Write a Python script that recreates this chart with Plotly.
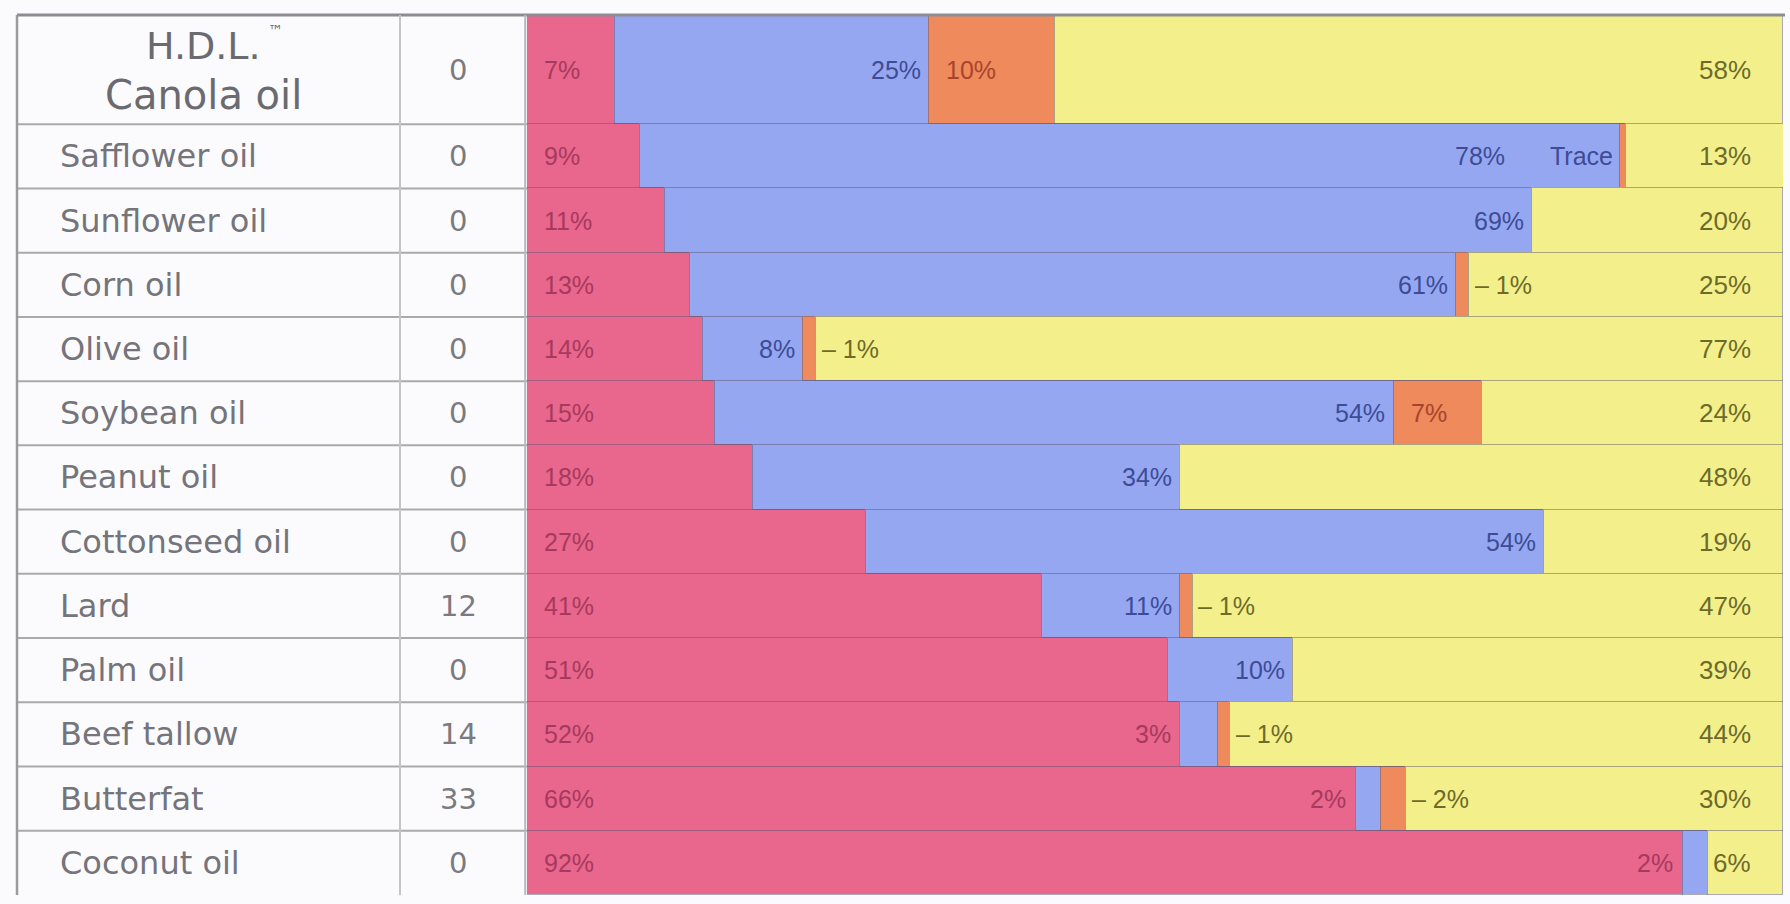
import plotly.graph_objects as go

# ---------------- data ----------------
fats = ["Canola oil", "Safflower oil", "Sunflower oil", "Corn oil", "Olive oil",
        "Soybean oil", "Peanut oil", "Cottonseed oil", "Lard", "Palm oil",
        "Beef tallow", "Butterfat", "Coconut oil"]
first_prefix = "H.D.L."
cholesterol = [0, 0, 0, 0, 0, 0, 0, 0, 12, 0, 14, 33, 0]
saturated = [7, 9, 11, 13, 14, 15, 18, 27, 41, 51, 52, 66, 92]
linoleic = [25, 78, 69, 61, 8, 54, 34, 54, 11, 10, 3, 2, 2]
alpha_linolenic = [10, 0.5, 0, 1, 1, 7, 0, 0, 1, 0, 1, 2, 0]
alpha_labels = ["10%", "Trace", "", "1%", "1%", "7%", "", "", "1%", "", "1%", "2%", ""]
monounsaturated = [58, 13, 20, 25, 77, 24, 48, 19, 47, 39, 44, 30, 6]

# ---------------- styling / layout ----------------
W, H = 1790, 904
C_SAT, C_LIN, C_ALA, C_MONO = "#E9668C", "#96A7F2", "#EF8A5C", "#F3F08B"
T_SAT, T_LIN, T_ALA, T_MONO = "#A63A5E", "#3D4C95", "#A8442E", "#6E6A2A"
GRID = "#A9A9AE"

row_h = [1.7] + [1.0] * (len(fats) - 1)
centers, acc = [], 0.0
for h in row_h:
    centers.append(acc + h / 2)
    acc += h
total = acc

top_px, bot_px = 15, 895
x_left_px, x_right_px = 527, 1783
ydom = [1 - bot_px / H, 1 - top_px / H]
xdom = [x_left_px / W, x_right_px / W]

fig = go.Figure()
edge = dict(color="rgba(95,85,115,0.5)", width=1.2)
for vals, col, name in [(saturated, C_SAT, "Saturated fat"),
                        (linoleic, C_LIN, "Linoleic acid"),
                        (alpha_linolenic, C_ALA, "Alpha-linolenic acid"),
                        (monounsaturated, C_MONO, "Monounsaturated fat")]:
    fig.add_trace(go.Bar(y=centers, x=vals, width=row_h, orientation="h",
                         marker=dict(color=col, line=edge), name=name,
                         showlegend=False, hoverinfo="x+name"))

ann = []
lab_font = "Liberation Sans, Arial, sans-serif"
tab_font = "DejaVu Sans, sans-serif"
for i, c in enumerate(centers):
    s, l, a, m = saturated[i], linoleic[i], alpha_linolenic[i], monounsaturated[i]
    at = alpha_labels[i]
    # saturated label at left of bar
    ann.append(dict(x=1.2, y=c, xref="x", yref="y", text=f"{s}%", showarrow=False,
                    xanchor="left", font=dict(size=25, color=T_SAT, family=lab_font)))
    # linoleic label right-aligned at end of blue segment
    lcol = T_LIN if l >= 5 else T_SAT
    if at == "Trace":
        lx = s + l - 9.0
    elif l < 5:
        lx = s - 0.6
    else:
        lx = s + l - 0.5
    ann.append(dict(x=lx, y=c, xref="x", yref="y", text=f"{l}%", showarrow=False,
                    xanchor="right", font=dict(size=25, color=lcol, family=lab_font)))
    # alpha-linolenic label
    if at == "Trace":
        ann.append(dict(x=s + l - 0.4, y=c, xref="x", yref="y", text="Trace", showarrow=False,
                        xanchor="right", font=dict(size=25, color=T_LIN, family=lab_font)))
    elif at and a >= 5:
        ann.append(dict(x=s + l + 1.2, y=c, xref="x", yref="y", text=at, showarrow=False,
                        xanchor="left", font=dict(size=25, color=T_ALA, family=lab_font)))
    elif at:
        ann.append(dict(x=s + l + a + 0.3, y=c, xref="x", yref="y", text="– " + at,
                        showarrow=False, xanchor="left",
                        font=dict(size=25, color=T_MONO, family=lab_font)))
    # monounsaturated label near right end
    ann.append(dict(x=97.6, y=c, xref="x", yref="y", text=f"{m}%", showarrow=False,
                    xanchor="right", font=dict(size=26, color=T_MONO, family=lab_font)))
    # table: fat name
    if i == 0:
        ann.append(dict(x=203 / W, y=c - 0.36, xref="paper", yref="y", text=first_prefix,
                        showarrow=False, xanchor="center",
                        font=dict(size=38, color="#6A6A70", family=tab_font)))
        ann.append(dict(x=266 / W, y=c - 0.6, xref="paper", yref="y", text="™",
                        showarrow=False, xanchor="left",
                        font=dict(size=15, color="#6A6A70", family=tab_font)))
        ann.append(dict(x=203 / W, y=c + 0.4, xref="paper", yref="y", text=fats[i],
                        showarrow=False, xanchor="center",
                        font=dict(size=40, color="#6A6A70", family=tab_font)))
    else:
        ann.append(dict(x=58 / W, y=c, xref="paper", yref="y", text=fats[i], showarrow=False,
                        xanchor="left", font=dict(size=32, color="#74747A", family=tab_font)))
    # table: cholesterol
    ann.append(dict(x=458 / W, y=c, xref="paper", yref="y", text=str(cholesterol[i]),
                    showarrow=False, xanchor="center",
                    font=dict(size=29, color="#7A7A80", family=tab_font)))

shapes = []
# row separators in the table area
acc = 0.0
for h in row_h[:-1]:
    acc += h
    shapes.append(dict(type="line", xref="paper", yref="y", x0=17 / W, x1=x_left_px / W,
                       y0=acc, y1=acc, line=dict(color=GRID, width=2)))
# table frame
shapes.append(dict(type="line", xref="paper", yref="paper", x0=17 / W, x1=1 - 5 / W,
                   y0=ydom[1], y1=ydom[1], line=dict(color="#8C8C95", width=3)))
shapes.append(dict(type="line", xref="paper", yref="paper", x0=17 / W, x1=17 / W,
                   y0=ydom[0], y1=ydom[1], line=dict(color="#9A9AA0", width=2.5)))
shapes.append(dict(type="line", xref="paper", yref="paper", x0=400 / W, x1=400 / W,
                   y0=ydom[0], y1=ydom[1], line=dict(color="#C4C4CA", width=2)))
shapes.append(dict(type="line", xref="paper", yref="paper", x0=x_left_px / W - 0.001,
                   x1=x_left_px / W - 0.001, y0=ydom[0], y1=ydom[1],
                   line=dict(color="#B8B8C0", width=2)))

fig.update_layout(
    width=W, height=H, margin=dict(l=0, r=0, t=0, b=0),
    barmode="stack", bargap=0,
    paper_bgcolor="#FBFBFD", plot_bgcolor="#FBFBFD",
    xaxis=dict(domain=xdom, range=[0, 100], visible=False, fixedrange=True),
    yaxis=dict(domain=ydom, range=[total, 0], visible=False, fixedrange=True),
    annotations=ann, shapes=shapes, showlegend=False,
)

fig.write_html("out.html")
